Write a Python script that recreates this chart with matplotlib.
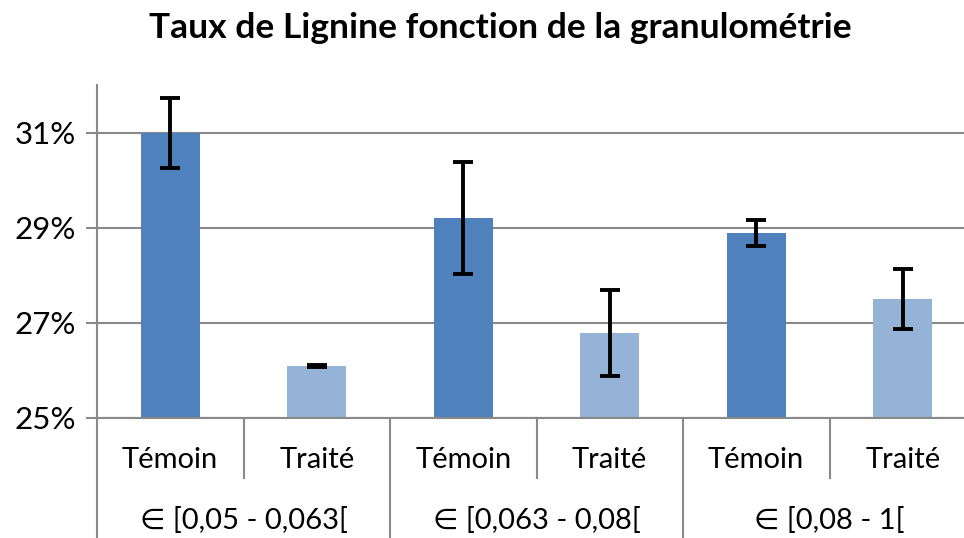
import numpy as np
import matplotlib.pyplot as plt
import matplotlib.transforms as mtransforms

plt.rcParams['font.family'] = ['Lato', 'DejaVu Sans']

groups = ['∈ [0,05 - 0,063[', '∈ [0,063 - 0,08[', '∈ [0,08 - 1[']
treatments = ['Témoin', 'Traité']
lignine = [31.0, 26.09, 29.20, 26.78, 28.89, 27.50]
erreur = [0.74, 0.02, 1.18, 0.90, 0.28, 0.63]
yticks = [25, 27, 29, 31]

dark = '#4F81BD'
light = '#95B3D7'
grid_col = '#898989'

fig = plt.figure(figsize=(9.64, 5.38), dpi=100)
ax = fig.add_axes([97 / 964, 120.3 / 538, 879 / 964, 332.5 / 538])

x = np.arange(len(lignine))
colors = [dark if i % 2 == 0 else light for i in x]
ax.bar(x, np.array(lignine) - 25, bottom=25, width=0.4, color=colors, zorder=2)
ax.errorbar(x, lignine, yerr=erreur, fmt='none', ecolor='black',
            elinewidth=2.8, capsize=7, capthick=2.8, zorder=3)

ax.set_xlim(-0.5, 5.5)
ax.set_ylim(25, 32)
ax.set_yticks(yticks)
ax.set_yticklabels([f'{v}%' for v in yticks], fontsize=22.5)
ax.yaxis.grid(True, color=grid_col, linewidth=1.5, zorder=0)
ax.tick_params(axis='y', length=8, width=1.5, color=grid_col, pad=7)
ax.set_xticks([])

for s in ['top', 'right']:
    ax.spines[s].set_visible(False)
ax.spines['left'].set_color(grid_col)
ax.spines['left'].set_linewidth(1.5)
ax.spines['bottom'].set_color(grid_col)
ax.spines['bottom'].set_linewidth(1.5)

# category axis drawn by hand (two levels)
trans = mtransforms.blended_transform_factory(ax.transData, ax.transAxes)
for xs in [-0.5, 1.5, 3.5]:
    ax.plot([xs, xs], [0, -0.40], transform=trans, color=grid_col,
            linewidth=1.5, clip_on=False)
for xs in [0.5, 2.5, 4.5]:
    ax.plot([xs, xs], [0, -0.18], transform=trans, color=grid_col,
            linewidth=1.5, clip_on=False)
for i in x:
    ax.text(i, -0.127, treatments[i % 2], transform=trans, ha='center',
            va='center', fontsize=21)
for g, name in enumerate(groups):
    ax.text(2 * g + 0.5, -0.308, name, transform=trans, ha='center',
            va='center', fontsize=21)

fig.text(500 / 964, 1 - 28 / 538, 'Taux de Lignine fonction de la granulométrie',
         ha='center', va='center', fontsize=25.5, fontweight='bold')

fig.savefig('out.png', dpi=100)
